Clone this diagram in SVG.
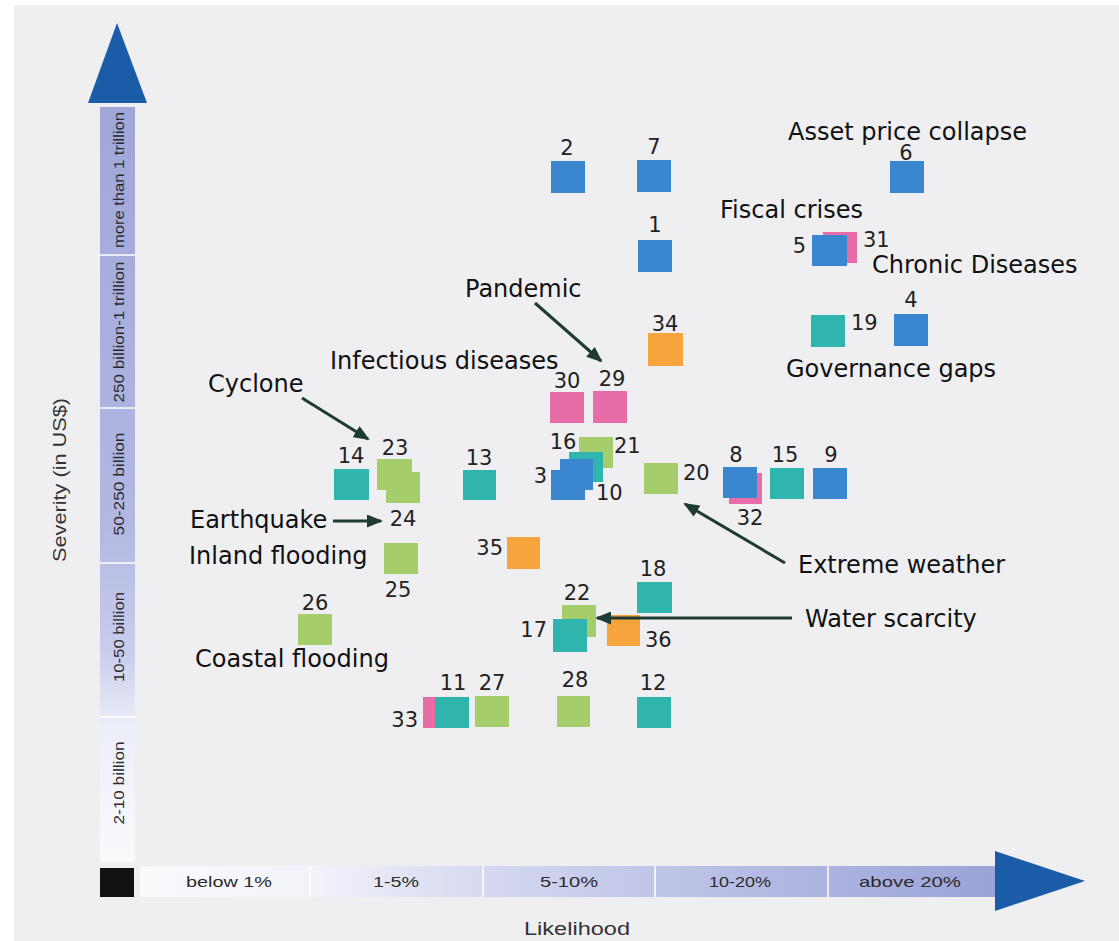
<svg xmlns="http://www.w3.org/2000/svg" width="1119" height="941" viewBox="0 0 1119 941">
<defs>
<style>
.num{font-family:"DejaVu Sans",sans-serif;font-size:21px;fill:#222;}
.mid{text-anchor:middle;}
.end{text-anchor:end;}
.lbl{font-family:"DejaVu Sans",sans-serif;font-size:24px;fill:#111;}
.ax{font-family:"Liberation Sans",Arial,sans-serif;font-size:15px;fill:#2b2b2b;}
.blue{fill:#3b87cf;}
.teal{fill:#30b4ae;}
.green{fill:#a6cd6b;}
.pink{fill:#e86ca8;}
.orange{fill:#f6a43c;}
.conn{stroke:#1f3b35;stroke-width:3;fill:none;marker-end:url(#ah);}
.sep{stroke:#ffffff;stroke-width:1.5;}
</style>
<marker id="ah" viewBox="0 0 16 13" markerUnits="userSpaceOnUse" markerWidth="16" markerHeight="13" refX="14" refY="6.5" orient="auto">
<path d="M0,0 L16,6.5 L0,13 z" fill="#1f3b35"/>
</marker>
<linearGradient id="gy" x1="0" y1="107" x2="0" y2="862" gradientUnits="userSpaceOnUse">
<stop offset="0" stop-color="#9fa7d8"/>
<stop offset="0.55" stop-color="#b2b8e2"/>
<stop offset="0.72" stop-color="#c8ccec"/>
<stop offset="0.82" stop-color="#eceef8"/>
<stop offset="1" stop-color="#fafafd"/>
</linearGradient>
<linearGradient id="gx" x1="140" y1="0" x2="995" y2="0" gradientUnits="userSpaceOnUse">
<stop offset="0" stop-color="#fafafd"/>
<stop offset="0.2" stop-color="#f2f3fa"/>
<stop offset="0.4" stop-color="#d6d9f0"/>
<stop offset="0.7" stop-color="#b6bce4"/>
<stop offset="1" stop-color="#9ba3d7"/>
</linearGradient>
</defs>
<rect x="0" y="0" width="1119" height="941" fill="#ffffff"/>
<rect x="14" y="5" width="1105" height="936" fill="#efeff2"/>

<g id="y-axis">
<rect x="100" y="107" width="35" height="755" fill="url(#gy)"/>
<polygon points="117,23 88,103 147,103" fill="#1a5ca8"/>
<line class="sep" x1="100" y1="255" x2="135" y2="255"/>
<line class="sep" x1="100" y1="408" x2="135" y2="408"/>
<line class="sep" x1="100" y1="563" x2="135" y2="563"/>
<line class="sep" x1="100" y1="717" x2="135" y2="717"/>
<text class="ax mid" transform="translate(118,180) rotate(-90)" dominant-baseline="central" textLength="136" lengthAdjust="spacingAndGlyphs">more than 1 trillion</text>
<text class="ax mid" transform="translate(118,332) rotate(-90)" dominant-baseline="central" textLength="141" lengthAdjust="spacingAndGlyphs">250 billion-1 trillion</text>
<text class="ax mid" transform="translate(118,484) rotate(-90)" dominant-baseline="central" textLength="103" lengthAdjust="spacingAndGlyphs">50-250 billion</text>
<text class="ax mid" transform="translate(118,637) rotate(-90)" dominant-baseline="central" textLength="90" lengthAdjust="spacingAndGlyphs">10-50 billion</text>
<text class="ax mid" transform="translate(118,783) rotate(-90)" dominant-baseline="central" textLength="83" lengthAdjust="spacingAndGlyphs">2-10 billion</text>
<text class="ax mid" style="font-size:18px;fill:#333" transform="translate(60,480) rotate(-90)" dominant-baseline="central" textLength="164" lengthAdjust="spacingAndGlyphs">Severity (in US$)</text>
</g>

<g id="x-axis">
<rect x="100" y="868" width="34" height="29" fill="#111111"/>
<rect x="140" y="866" width="855" height="31" fill="url(#gx)"/>
<polygon points="995,851 995,911 1085,881" fill="#1a5ca8"/>
<line class="sep" x1="310" y1="866" x2="310" y2="897"/>
<line class="sep" x1="483" y1="866" x2="483" y2="897"/>
<line class="sep" x1="655" y1="866" x2="655" y2="897"/>
<line class="sep" x1="828" y1="866" x2="828" y2="897"/>
<text class="ax mid" x="229" y="887" textLength="86" lengthAdjust="spacingAndGlyphs">below 1%</text>
<text class="ax mid" x="396" y="887" textLength="46" lengthAdjust="spacingAndGlyphs">1-5%</text>
<text class="ax mid" x="569" y="887" textLength="58" lengthAdjust="spacingAndGlyphs">5-10%</text>
<text class="ax mid" x="740" y="887" textLength="62" lengthAdjust="spacingAndGlyphs">10-20%</text>
<text class="ax mid" x="910" y="887" textLength="102" lengthAdjust="spacingAndGlyphs">above 20%</text>
<text class="ax mid" style="font-size:18px;fill:#333" x="577" y="935" textLength="106" lengthAdjust="spacingAndGlyphs">Likelihood</text>
</g>

<g id="node-2"><rect class="blue" x="551" y="161" width="34" height="32"/><text class="num mid" x="567" y="155">2</text></g>
<g id="node-7"><rect class="blue" x="637" y="160" width="34" height="32"/><text class="num mid" x="654" y="154">7</text></g>
<g id="node-1"><rect class="blue" x="638" y="240" width="34" height="32"/><text class="num mid" x="655" y="232">1</text></g>
<g id="node-6"><rect class="blue" x="890" y="161" width="34" height="32"/><text class="num mid" x="906" y="160">6</text></g>
<g id="node-31"><rect class="pink" x="823" y="232" width="34" height="31"/><text class="num" x="863" y="247">31</text></g>
<g id="node-5"><rect class="blue" x="812" y="235" width="35" height="31"/><text class="num end" x="806" y="253">5</text></g>
<g id="node-19"><rect class="teal" x="811" y="315" width="34" height="32"/><text class="num" x="851" y="330">19</text></g>
<g id="node-4"><rect class="blue" x="894" y="314" width="34" height="32"/><text class="num mid" x="911" y="307">4</text></g>
<g id="node-34"><rect class="orange" x="648" y="333" width="35" height="33"/><text class="num mid" x="665" y="331">34</text></g>
<g id="node-30"><rect class="pink" x="550" y="392" width="34" height="31"/><text class="num mid" x="567" y="388">30</text></g>
<g id="node-29"><rect class="pink" x="593" y="391" width="34" height="32"/><text class="num mid" x="612" y="386">29</text></g>
<g id="node-14"><rect class="teal" x="334" y="469" width="35" height="31"/><text class="num mid" x="351" y="463">14</text></g>
<g id="node-23"><rect class="green" x="377" y="459" width="35" height="31"/><text class="num mid" x="395" y="455">23</text></g>
<g id="node-24"><rect class="green" x="386" y="472" width="34" height="31"/><text class="num mid" x="403" y="526">24</text></g>
<g id="node-13"><rect class="teal" x="463" y="470" width="33" height="30"/><text class="num mid" x="479" y="465">13</text></g>
<g id="node-21"><rect class="green" x="579" y="437" width="34" height="31"/><text class="num" x="614" y="453">21</text></g>
<g id="node-16"><rect class="teal" x="569" y="452" width="34" height="30"/><text class="num mid" x="563" y="449">16</text></g>
<g id="node-10"><rect class="blue" x="560" y="459" width="33" height="31"/><text class="num" x="596" y="500">10</text></g>
<g id="node-3"><rect class="blue" x="551" y="470" width="34" height="30"/><text class="num end" x="547" y="483">3</text></g>
<g id="node-20"><rect class="green" x="644" y="463" width="34" height="31"/><text class="num" x="683" y="480">20</text></g>
<g id="node-32"><rect class="pink" x="729" y="473" width="33" height="31"/><text class="num mid" x="750" y="525">32</text></g>
<g id="node-8"><rect class="blue" x="723" y="467" width="34" height="31"/><text class="num mid" x="736" y="462">8</text></g>
<g id="node-15"><rect class="teal" x="770" y="468" width="34" height="31"/><text class="num mid" x="785" y="462">15</text></g>
<g id="node-9"><rect class="blue" x="813" y="468" width="34" height="31"/><text class="num mid" x="831" y="462">9</text></g>
<g id="node-35"><rect class="orange" x="507" y="537" width="33" height="32"/><text class="num end" x="503" y="555">35</text></g>
<g id="node-25"><rect class="green" x="384" y="543" width="34" height="31"/><text class="num mid" x="398" y="597">25</text></g>
<g id="node-18"><rect class="teal" x="637" y="582" width="35" height="31"/><text class="num mid" x="653" y="576">18</text></g>
<g id="node-26"><rect class="green" x="298" y="614" width="34" height="31"/><text class="num mid" x="315" y="610">26</text></g>
<g id="node-22"><rect class="green" x="562" y="605" width="34" height="32"/><text class="num mid" x="577" y="600">22</text></g>
<g id="node-17"><rect class="teal" x="553" y="619" width="34" height="33"/><text class="num end" x="547" y="637">17</text></g>
<g id="node-36"><rect class="orange" x="607" y="615" width="33" height="31"/><text class="num" x="645" y="647">36</text></g>
<g id="node-33"><rect class="pink" x="423" y="697" width="34" height="31"/><text class="num end" x="418" y="727">33</text></g>
<g id="node-11"><rect class="teal" x="435" y="697" width="34" height="31"/><text class="num mid" x="453" y="690">11</text></g>
<g id="node-27"><rect class="green" x="475" y="696" width="34" height="31"/><text class="num mid" x="492" y="690">27</text></g>
<g id="node-28"><rect class="green" x="557" y="696" width="33" height="31"/><text class="num mid" x="575" y="687">28</text></g>
<g id="node-12"><rect class="teal" x="637" y="697" width="34" height="31"/><text class="num mid" x="653" y="690">12</text></g>

<g id="callouts">
<text class="lbl" x="788" y="140">Asset price collapse</text>
<text class="lbl" x="720" y="218">Fiscal crises</text>
<text class="lbl" x="872" y="273">Chronic Diseases</text>
<text class="lbl" x="786" y="377">Governance gaps</text>
<text class="lbl" x="465" y="297">Pandemic</text>
<text class="lbl" x="330" y="369">Infectious diseases</text>
<text class="lbl" x="208" y="392">Cyclone</text>
<text class="lbl" x="190" y="528">Earthquake</text>
<text class="lbl" x="189" y="564">Inland flooding</text>
<text class="lbl" x="195" y="667">Coastal flooding</text>
<text class="lbl" x="798" y="573">Extreme weather</text>
<text class="lbl" x="805" y="627">Water scarcity</text>
</g>

<g id="connectors">
<line class="conn" x1="535" y1="303" x2="601" y2="361"/>
<line class="conn" x1="302" y1="398" x2="368" y2="439"/>
<line class="conn" x1="333" y1="521" x2="381" y2="521"/>
<line class="conn" x1="785" y1="563" x2="685" y2="504"/>
<line class="conn" x1="792" y1="618" x2="597" y2="618"/>
</g>
</svg>
